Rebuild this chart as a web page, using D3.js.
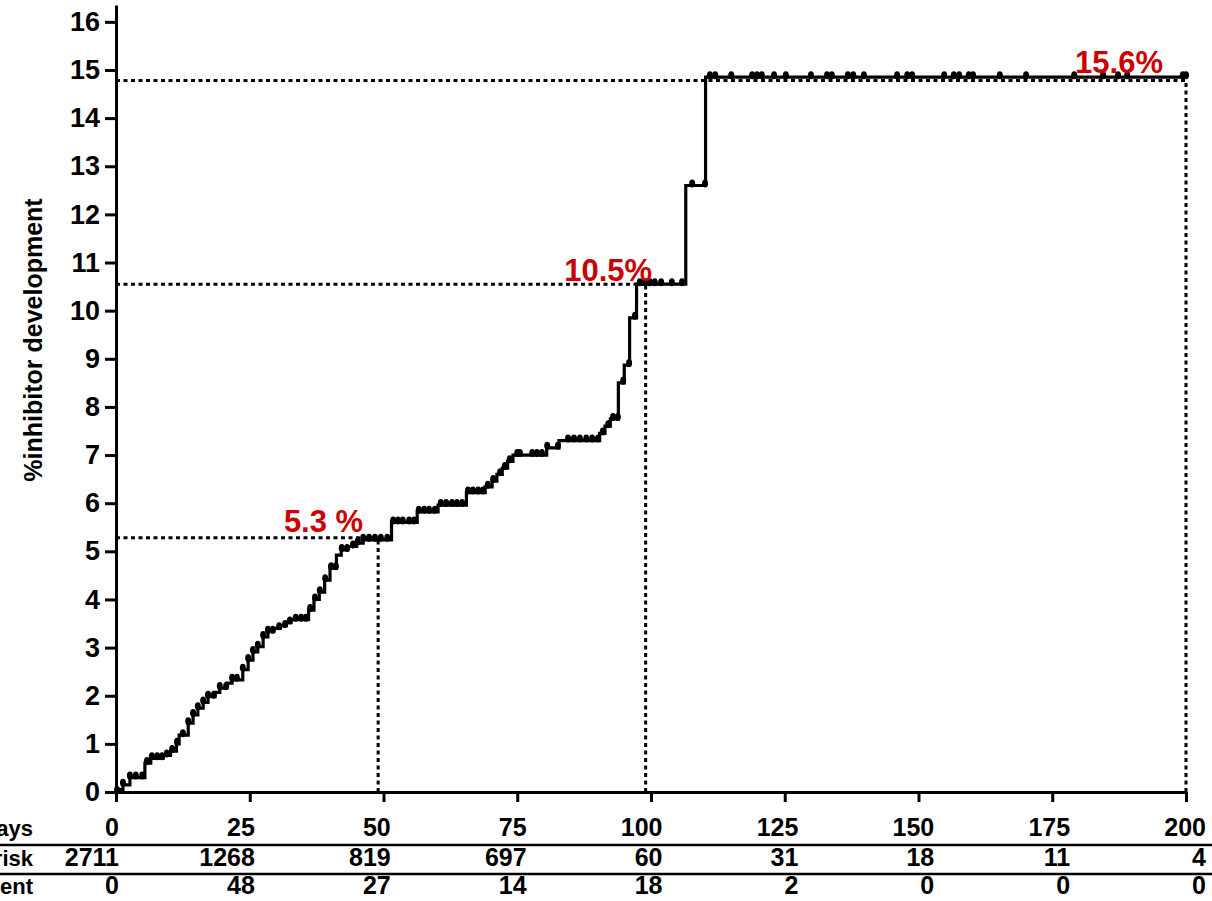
<!DOCTYPE html>
<html>
<head>
<meta charset="utf-8">
<script src="https://d3js.org/d3.v7.min.js"></script>
<style>
body { margin: 0; background: #fff; }
svg { display: block; font-family: "Liberation Sans", Arial, sans-serif; font-weight: bold; }
</style>
</head>
<body>
<script>
//los escalones de la curva: dia del evento y % acumulado despues del evento
var eventDays = [0.3, 1.3, 2.6, 5.4, 6.5, 8.8, 10.2, 11.3, 11.8, 13.5,
                 14.4, 15.3, 16.3, 17.2, 18.5, 19.4, 20.7, 21.7, 23.7, 24.7,
                 25.6, 26.5, 27.5, 28.4, 29.5, 30.7, 31.8, 32.7, 36.0, 37.0,
                 38.0, 39.0, 40.0, 41.2, 42.1, 43.3, 45.0, 46.2, 51.5, 56.3,
                 60.2, 65.5, 69.0, 70.3, 71.2, 72.2, 73.2, 74.2, 80.5, 82.8,
                 90.4, 91.4, 92.4, 93.9, 95.0, 96.0, 97.3, 106.5, 110.2];
var eventPct = [0.05, 0.15, 0.3, 0.6, 0.7, 0.76, 0.85, 1.0, 1.18, 1.43,
                1.6, 1.74, 1.86, 1.98, 2.07, 2.16, 2.26, 2.33, 2.54, 2.74,
                2.91, 3.02, 3.22, 3.33, 3.4, 3.45, 3.52, 3.58, 3.78, 4.0,
                4.15, 4.4, 4.65, 4.92, 5.03, 5.1, 5.17, 5.24, 5.6, 5.82,
                5.96, 6.22, 6.34, 6.46, 6.6, 6.73, 6.87, 7.0, 7.15, 7.3,
                7.45, 7.6, 7.75, 8.5, 8.87, 9.85, 10.55, 12.6, 14.85];

//dias de los censurados (los puntitos)
var censorDays = [0.2, 1.3, 2.6, 3.7, 4.9, 5.8, 6.7, 7.7, 8.6, 9.5,
                  10.5, 11.4, 12.5, 13.5, 14.4, 15.3, 16.3, 17.2, 18.3, 19.4,
                  20.6, 21.7, 22.6, 23.7, 24.7, 25.6, 26.5, 27.5, 28.4, 29.3,
                  30.5, 31.6, 32.5, 33.6, 34.6, 35.5, 36.3, 37.2, 38.1, 39.1,
                  40.2, 41.1, 42.2, 43.2, 44.3, 45.2, 46.2, 47.3, 48.4, 49.5,
                  50.7, 51.8, 52.7, 53.6, 54.8, 55.7, 56.6, 57.6, 58.5, 59.6,
                  60.7, 61.7, 62.8, 63.7, 64.7, 65.8, 66.7, 67.7, 68.6, 69.5,
                  70.5, 71.8, 72.7, 73.6, 75.0, 75.5, 77.8, 78.7, 79.6, 80.6,
                  82.6, 84.5, 85.6, 86.7, 87.9, 89.0, 90.1, 91.0, 92.0, 92.9,
                  93.8, 94.8, 95.9, 97.0, 97.9, 98.9, 99.8, 100.7, 101.9, 103.9,
                  105.8, 107.7, 110.1, 111.0, 112.0, 115.0, 118.9, 119.8, 120.7, 123.0,
                  125.2, 129.9, 132.9, 133.8, 136.8, 137.8, 139.8, 146.0, 147.9, 148.8,
                  154.8, 156.6, 157.6, 159.4, 160.2, 165.2, 170.1, 179.1, 184.5, 187.3,
                  189.0, 199.4, 200];

//ejes y tabla de abajo
var xTicks = [0, 25, 50, 75, 100, 125, 150, 175, 200];
var yTicks = [0, 1, 2, 3, 4, 5, 6, 7, 8, 9, 10, 11, 12, 13, 14, 15, 16];
var atRisk = [2711, 1268, 819, 697, 60, 31, 18, 11, 4];
var eventCount = [0, 48, 27, 14, 18, 2, 0, 0, 0];
var rowLabels = ["Days", "At risk", "Event"];

//lineas punteadas y etiquetas rojas
var guideDays = [49, 99, 200];
var guidePct = [5.28, 10.55, 14.78];
var noteText = ["5.3 %", "10.5%", "15.6%"];
var noteDays = [46.2, 100.2, 195.7];
var notePct = [5.4, 10.62, 14.93];

var vis = {
    width: 1212,
    height: 901,
    left: 116,
    right: 1186,
    top: 5,
    bottom: 792,
    red: "#cc0000"
};

var svg = d3.select("body")
            .append("svg")
            .attr("width", vis.width)
            .attr("height", vis.height);

var x = d3.scaleLinear().domain([0, 200]).range([vis.left, vis.right]);
var y = d3.scaleLinear().domain([0, 16.35]).range([vis.bottom, vis.top]);
//columnas de la tabla (alineadas a la derecha)
var xTable = d3.scaleLinear().domain([0, 200]).range([119, 1206]);

//lineas punteadas
var guides = svg.append("g")
    .attr("fill", "none")
    .attr("stroke", "#000")
    .attr("stroke-width", 3)
    .attr("stroke-dasharray", "4,3.5");
guideDays.forEach(function(d, i) {
    guides.append("line")
        .attr("x1", x(0)).attr("x2", x(d))
        .attr("y1", y(guidePct[i])).attr("y2", y(guidePct[i]));
    guides.append("line")
        .attr("x1", x(d)).attr("x2", x(d))
        .attr("y1", y(0)).attr("y2", y(guidePct[i]));
});

//la curva escalonada
var points = [[0, 0]];
eventDays.forEach(function(d, i) { points.push([d, eventPct[i]]); });
points.push([200, eventPct[eventPct.length - 1]]);

var line = d3.line()
    .x(function(d) { return x(d[0]); })
    .y(function(d) { return y(d[1]); })
    .curve(d3.curveStepAfter);

svg.append("path")
    .datum(points)
    .attr("d", line)
    .attr("fill", "none")
    .attr("stroke", "#000")
    .attr("stroke-width", 3.2);

//valor de la curva en un dia dado
function pctAt(t) {
    var i = d3.bisectRight(eventDays, t) - 1;
    return i < 0 ? 0 : eventPct[i];
}

svg.append("g").selectAll("ellipse")
    .data(censorDays)
    .enter()
    .append("ellipse")
    .attr("cx", function(d) { return x(d); })
    .attr("cy", function(d) { return y(pctAt(d)) - 2; })
    .attr("rx", 3)
    .attr("ry", 4)
    .attr("fill", "#000");

//ejes
var yAxis = svg.append("g")
    .attr("transform", "translate(" + vis.left + ",0)")
    .call(d3.axisLeft(y).tickValues(yTicks).tickSize(11).tickPadding(5).tickSizeOuter(0));
var xAxis = svg.append("g")
    .attr("transform", "translate(0," + vis.bottom + ")")
    .call(d3.axisBottom(x).tickValues(xTicks).tickSize(10).tickFormat("").tickSizeOuter(0));

[yAxis, xAxis].forEach(function(a) {
    a.selectAll("path, line").attr("stroke", "#000").attr("stroke-width", 3);
});
yAxis.selectAll("text")
    .attr("fill", "#000")
    .style("font-size", "27px")
    .style("font-weight", "bold")
    .style("font-family", "'Liberation Sans', Arial, sans-serif");

svg.append("text")
    .attr("transform", "translate(42,340) rotate(-90)")
    .attr("text-anchor", "middle")
    .style("font-size", "25px")
    .text("%inhibitor development");

//etiquetas rojas
svg.selectAll("text.note")
    .data(noteText)
    .enter()
    .append("text")
    .attr("class", "note")
    .attr("x", function(d, i) { return x(noteDays[i]); })
    .attr("y", function(d, i) { return y(notePct[i]); })
    .attr("text-anchor", "end")
    .attr("fill", vis.red)
    .style("font-size", "31px")
    .text(function(d) { return d; });

//tabla de abajo
var rows = [xTicks, atRisk, eventCount];
var rowY = [836, 866, 894];
rows.forEach(function(r, j) {
    svg.append("text")
        .attr("x", 33)
        .attr("y", rowY[j])
        .attr("text-anchor", "end")
        .style("font-size", "22px")
        .text(rowLabels[j]);
    svg.append("g").selectAll("text")
        .data(r)
        .enter()
        .append("text")
        .attr("x", function(d, i) { return xTable(xTicks[i]); })
        .attr("y", rowY[j])
        .attr("text-anchor", "end")
        .style("font-size", "25px")
        .text(function(d) { return d; });
});
[845, 874].forEach(function(ly) {
    svg.append("line")
        .attr("x1", 0).attr("x2", vis.width)
        .attr("y1", ly).attr("y2", ly)
        .attr("stroke", "#000")
        .attr("stroke-width", 2.5);
});
</script>
</body>
</html>
